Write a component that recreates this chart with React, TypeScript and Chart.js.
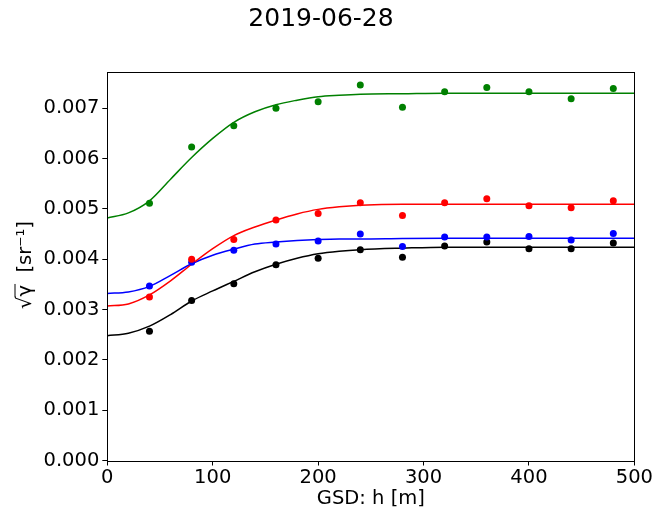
import { useEffect, useRef } from 'react';
import { Chart, registerables } from 'chart.js';

Chart.register(...registerables);

const TITLE = '2019-06-28';
const X_LABEL = 'GSD: h [m]';
const Y_LABEL_ROOT = '√γ';
const Y_LABEL_UNIT = '  [sr⁻¹]';

// observation heights (m)
const obsX = [40, 80, 120, 160, 200, 240, 280, 320, 360, 400, 440, 480];
const greenObs = [0.00511, 0.00623, 0.00665, 0.007, 0.00713, 0.00746, 0.00702, 0.00733, 0.00741, 0.00733, 0.00719, 0.00739];
const redObs = [0.00325, 0.004, 0.00439, 0.00478, 0.00491, 0.00512, 0.00487, 0.00512, 0.0052, 0.00506, 0.00502, 0.00516];
const blueObs = [0.00347, 0.00394, 0.00418, 0.0043, 0.00436, 0.0045, 0.00425, 0.00444, 0.00444, 0.00445, 0.00438, 0.00451];
const blackObs = [0.00257, 0.00318, 0.00351, 0.00389, 0.00402, 0.00419, 0.00404, 0.00426, 0.00434, 0.00421, 0.00421, 0.00432];

// fitted curves
const curveX = [0, 20, 40, 60, 80, 100, 120, 140, 160, 180, 200, 220, 240, 280, 320, 400, 500];
const greenFit = [0.00482, 0.00492, 0.00516, 0.00559, 0.00602, 0.0064, 0.00672, 0.00693, 0.00707, 0.00716, 0.00723, 0.00726, 0.00728, 0.00729, 0.0073, 0.0073, 0.0073];
const redFit = [0.00307, 0.00311, 0.00329, 0.00357, 0.0039, 0.00421, 0.00447, 0.00464, 0.00478, 0.0049, 0.00499, 0.00504, 0.00507, 0.00509, 0.00509, 0.00509, 0.00509];
const blueFit = [0.00332, 0.00335, 0.00346, 0.00368, 0.00391, 0.00408, 0.0042, 0.0043, 0.00434, 0.00437, 0.00439, 0.0044, 0.0044, 0.00441, 0.004415, 0.004415, 0.004415];
const blackFit = [0.00248, 0.00253, 0.00267, 0.0029, 0.00317, 0.00337, 0.00356, 0.00375, 0.0039, 0.00402, 0.00411, 0.00416, 0.00419, 0.00422, 0.00424, 0.00424, 0.00424];

const xTicks = [0, 100, 200, 300, 400, 500];
const yTicks = [0, 0.001, 0.002, 0.003, 0.004, 0.005, 0.006, 0.007];
const X_MIN = 0;
const X_MAX = 500;
const Y_MIN = 0;
const Y_MAX = 0.00772;

const GREEN = '#008000';
const RED = '#ff0000';
const BLUE = '#0000ff';
const BLACK = '#000000';

const FONT = '"DejaVu Sans", sans-serif';
const TICK_SIZE = 19.5;

const toPts = (xs: number[], ys: number[]) => xs.map((x, i) => ({ x, y: ys[i] }));

export default function App() {
  const ref = useRef<HTMLCanvasElement>(null);

  useEffect(() => {
    if (!ref.current) return;

    const decor = {
      id: 'decor',
      afterDatasetsDraw(chart: any) {
        const { ctx, chartArea: a } = chart;
        ctx.save();
        ctx.strokeStyle = '#000';
        ctx.lineWidth = 1;
        ctx.strokeRect(Math.round(a.left) + 0.5, Math.round(a.top) + 0.5, Math.round(a.right - a.left), Math.round(a.bottom - a.top));
        ctx.restore();
      },
      afterDraw(chart: any) {
        const { ctx, chartArea: a } = chart;
        ctx.save();
        ctx.fillStyle = '#000';
        // title
        ctx.font = `25px ${FONT}`;
        ctx.textAlign = 'center';
        ctx.textBaseline = 'alphabetic';
        ctx.fillText(TITLE, 321, 25.5);
        // x label
        ctx.font = `${TICK_SIZE}px ${FONT}`;
        ctx.fillText(X_LABEL, (a.left + a.right) / 2, 504);
        // y label (rotated)
        ctx.translate(31, 265);
        ctx.rotate(-Math.PI / 2);
        ctx.textAlign = 'left';
        const wRoot = ctx.measureText(Y_LABEL_ROOT).width;
        const wSqrt = ctx.measureText('√').width;
        const wAll = ctx.measureText(Y_LABEL_ROOT + Y_LABEL_UNIT).width;
        const sx = -wAll / 2;
        ctx.fillText(Y_LABEL_ROOT + Y_LABEL_UNIT, sx, 0);
        ctx.strokeStyle = '#000';
        ctx.lineWidth = 1;
        ctx.beginPath();
        const oy = -TICK_SIZE * 0.82;
        ctx.moveTo(sx + wSqrt - 1, oy);
        ctx.lineTo(sx + wRoot + 1, oy);
        ctx.stroke();
        ctx.restore();
      },
    };

    const line = (data: number[], color: string) => ({
      type: 'line' as const,
      data: toPts(curveX, data),
      borderColor: color,
      backgroundColor: color,
      borderWidth: 1.5,
      pointRadius: 0,
      fill: false,
      cubicInterpolationMode: 'monotone' as const,
      order: 2,
    });
    const pts = (data: number[], color: string) => ({
      type: 'scatter' as const,
      data: toPts(obsX, data),
      borderColor: color,
      backgroundColor: color,
      pointRadius: 3.5,
      pointBorderWidth: 0,
      order: 1,
    });

    const chart = new Chart(ref.current, {
      type: 'scatter',
      data: {
        datasets: [
          line(greenFit, GREEN),
          line(redFit, RED),
          line(blueFit, BLUE),
          line(blackFit, BLACK),
          pts(greenObs, GREEN),
          pts(redObs, RED),
          pts(blueObs, BLUE),
          pts(blackObs, BLACK),
        ] as any,
      },
      options: {
        responsive: false,
        animation: false,
        events: [],
        layout: { padding: { left: 0, right: 19, top: 72, bottom: 0 } },
        plugins: { legend: { display: false }, tooltip: { enabled: false }, title: { display: false } },
        scales: {
          x: {
            type: 'linear',
            min: X_MIN,
            max: X_MAX,
            afterBuildTicks: (s: any) => { s.ticks = xTicks.map((v) => ({ value: v })); },
            afterFit: (s: any) => { s.height = 49.5; },
            border: { display: false },
            grid: { display: true, drawOnChartArea: false, drawTicks: true, tickLength: 5, color: '#000', lineWidth: 1 },
            ticks: { color: '#000', font: { family: FONT, size: TICK_SIZE }, padding: 1, maxRotation: 0, callback: (v: any) => String(v) },
          },
          y: {
            type: 'linear',
            min: Y_MIN,
            max: Y_MAX,
            afterBuildTicks: (s: any) => { s.ticks = yTicks.map((v) => ({ value: v })); },
            afterFit: (s: any) => { s.width = 107.3; },
            border: { display: false },
            grid: { display: true, drawOnChartArea: false, drawTicks: true, tickLength: 5, color: '#000', lineWidth: 1 },
            ticks: { color: '#000', font: { family: FONT, size: TICK_SIZE }, padding: 3, callback: (v: any) => Number(v).toFixed(3) },
          },
        },
      },
      plugins: [decor],
    });
    return () => chart.destroy();
  }, []);

  return (
    <div style={{ position: 'absolute', left: 0, top: 0, width: 654, height: 510, background: '#fff' }}>
      <canvas ref={ref} width={654} height={510} style={{ width: 654, height: 510, display: 'block' }} />
    </div>
  );
}
